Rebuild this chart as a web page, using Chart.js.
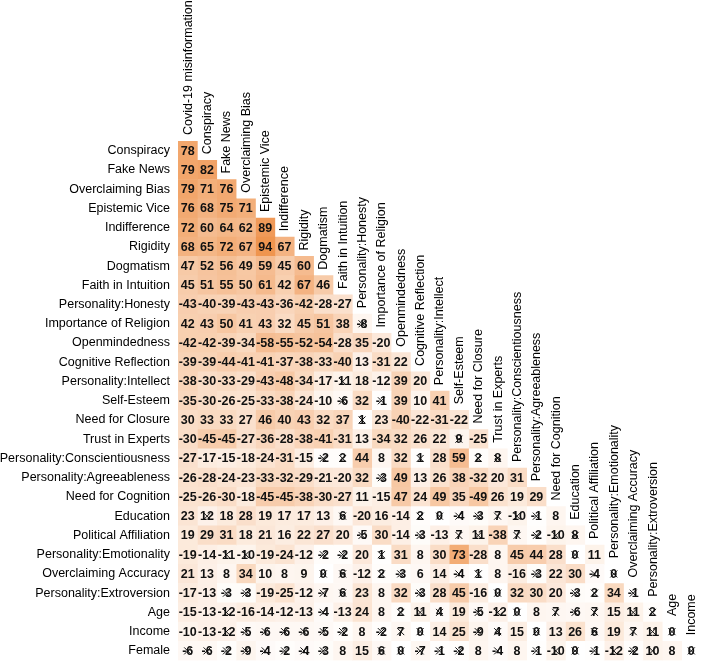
<!DOCTYPE html>
<html><head><meta charset="utf-8">
<script src="https://cdn.jsdelivr.net/npm/chart.js@4"></script>
<style>html,body{margin:0;padding:0;background:#fff}#wrap{width:703px;height:668px;position:relative}</style>
</head><body><div id="wrap"><canvas id="c"></canvas></div>
<script>
const rowLabels = ["Conspiracy","Fake News","Overclaiming Bias","Epistemic Vice","Indifference","Rigidity","Dogmatism","Faith in Intuition","Personality:Honesty","Importance of Religion","Openmindedness","Cognitive Reflection","Personality:Intellect","Self-Esteem","Need for Closure","Trust in Experts","Personality:Conscientiousness","Personality:Agreeableness","Need for Cognition","Education","Political Affiliation","Personality:Emotionality","Overclaiming Accuracy","Personality:Extroversion","Age","Income","Female"];
const colLabels = ["Covid-19 misinformation","Conspiracy","Fake News","Overclaiming Bias","Epistemic Vice","Indifference","Rigidity","Dogmatism","Faith in Intuition","Personality:Honesty","Importance of Religion","Openmindedness","Cognitive Reflection","Personality:Intellect","Self-Esteem","Need for Closure","Trust in Experts","Personality:Conscientiousness","Personality:Agreeableness","Need for Cognition","Education","Political Affiliation","Personality:Emotionality","Overclaiming Accuracy","Personality:Extroversion","Age","Income"];
// correlations (x100), lower triangle, one row per rowLabel
const values = [
 [78],
 [79,82],
 [79,71,76],
 [76,68,75,71],
 [72,60,64,62,89],
 [68,65,72,67,94,67],
 [47,52,56,49,59,45,60],
 [45,51,55,50,61,42,67,46],
 [-43,-40,-39,-43,-43,-36,-42,-28,-27],
 [42,43,50,41,43,32,45,51,38,-8],
 [-42,-42,-39,-34,-58,-55,-52,-54,-28,35,-20],
 [-39,-39,-44,-41,-41,-37,-38,-33,-40,13,-31,22],
 [-38,-30,-33,-29,-43,-48,-34,-17,-11,18,-12,39,20],
 [-35,-30,-26,-25,-33,-38,-24,-10,-6,32,-1,39,10,41],
 [30,33,33,27,46,40,43,32,37,1,23,-40,-22,-31,-22],
 [-30,-45,-45,-27,-36,-28,-38,-41,-31,13,-34,32,26,22,9,-25],
 [-27,-17,-15,-18,-24,-31,-15,-2,2,44,8,32,1,28,59,2,8],
 [-26,-28,-24,-23,-33,-32,-29,-21,-20,32,-3,49,13,26,38,-32,20,31],
 [-25,-26,-30,-18,-45,-45,-38,-30,-27,11,-15,47,24,49,35,-49,26,19,29],
 [23,12,18,28,19,17,17,13,6,-20,16,-14,2,0,-4,-3,7,-10,-1,8],
 [19,29,31,18,21,16,22,27,20,-5,30,-14,-3,-13,7,11,-38,7,-2,-10,8],
 [-19,-14,-11,-10,-19,-24,-12,-2,-2,20,1,31,8,30,73,-28,8,45,44,28,0,11],
 [21,13,8,34,10,8,9,0,6,-12,2,-3,6,14,-4,1,8,-16,-3,22,30,-4,0],
 [-17,-13,-3,-3,-19,-25,-12,-7,6,23,8,32,-3,28,45,-16,0,32,30,20,-3,2,34,-1],
 [-15,-13,-12,-16,-14,-12,-13,-4,-13,24,8,2,11,4,19,-5,-12,0,8,7,-6,7,15,11,2],
 [-10,-13,-12,-5,-6,-6,-6,-5,-2,8,-2,7,0,14,25,-9,4,15,0,13,26,6,19,7,11,0],
 [-6,-6,-2,-9,-4,-2,-4,-3,8,15,6,0,-7,-1,-2,8,-4,8,-1,-10,0,-1,-12,-2,10,8,0]
];
// column indices of non-significant (crossed) cells, per row
const nonSig = [
 [],[],[],[],[],[],[],[],[],
 [9],
 [],[],
 [8],
 [8,10],
 [9],
 [14],
 [7,8,12,15,16],
 [10],
 [],
 [1,8,12,13,14,15,16,17,18],
 [9,12,14,15,17,18,19,20],
 [2,3,7,8,10,20],
 [7,8,10,11,14,15,18,21,22],
 [2,3,7,8,12,16,20,21,23],
 [2,7,11,12,13,15,16,17,19,20,21,23,24],
 [2,3,4,5,6,7,8,10,11,12,15,16,18,21,23,24,25],
 [0,1,2,3,4,5,6,7,10,11,12,13,14,16,18,19,20,21,22,23,24,26]
];

function cellColor(v){
  const t = Math.min(1, Math.abs(v)/100);
  const r = Math.round(255 - t*(255-238));
  const g = Math.round(255 - t*(255-142));
  const b = Math.round(255 - t*(255-68));
  return `rgb(${r},${g},${b})`;
}

const datasets = colLabels.map((c, j) => ({
  label: c,
  data: rowLabels.map((r, i) => (i >= j ? [j - 0.5, j + 0.5] : null)),
  backgroundColor: rowLabels.map((r, i) => (i >= j ? cellColor(values[i][j]) : 'rgba(0,0,0,0)')),
  borderWidth: 0,
  barPercentage: 1,
  categoryPercentage: 1,
  grouped: false
}));

const labelPlugin = {
  id: 'cellLabels',
  afterDatasetsDraw(chart) {
    const ctx = chart.ctx;
    const xs = chart.scales.x, ys = chart.scales.y;
    const cellH = Math.abs(ys.getPixelForValue(1) - ys.getPixelForValue(0));
    ctx.save();
    ctx.fillStyle = '#111';
    ctx.strokeStyle = '#111';
    ctx.textAlign = 'center';
    ctx.textBaseline = 'middle';
    ctx.font = 'bold 12.5px "Liberation Sans", Arial, sans-serif';
    values.forEach((row, i) => {
      row.forEach((v, j) => {
        const x = xs.getPixelForValue(j), y = ys.getPixelForValue(i);
        ctx.fillText(String(v), x, y + 0.5);
        if (nonSig[i].includes(j)) {
          ctx.lineWidth = 1;
          ctx.beginPath();
          ctx.moveTo(x - 3.5, y - 3.5); ctx.lineTo(x + 3.5, y + 3.5);
          ctx.moveTo(x - 3.5, y + 3.5); ctx.lineTo(x + 3.5, y - 3.5);
          ctx.stroke();
        }
      });
    });
    ctx.font = '12.5px "Liberation Sans", Arial, sans-serif';
    ctx.textAlign = 'left';
    colLabels.forEach((c, j) => {
      const x = xs.getPixelForValue(j);
      const yb = ys.getPixelForValue(j) - cellH / 2 - 6;
      ctx.save();
      ctx.translate(x, yb);
      ctx.rotate(-Math.PI / 2);
      ctx.fillStyle = '#000';
      ctx.fillText(c, 0, 0.5);
      ctx.restore();
    });
    ctx.restore();
  }
};

new Chart(document.getElementById('c'), {
  type: 'bar',
  data: { labels: rowLabels, datasets },
  options: {
    indexAxis: 'y',
    responsive: true,
    maintainAspectRatio: false,
    animation: false,
    layout: { padding: { top: 141, bottom: 6, right: 2, left: 0 } },
    plugins: { legend: { display: false }, tooltip: { enabled: false } },
    scales: {
      x: { type: 'linear', min: -0.5, max: 26.5, display: false },
      y: {
        type: 'category',
        grid: { display: false, drawTicks: true, tickLength: 8 },
        border: { display: false },
        ticks: { color: '#000', padding: 0, font: { family: '"Liberation Sans", Arial, sans-serif', size: 12.5 } },
        afterFit(scale) { scale.width = 178; }
      }
    }
  },
  plugins: [labelPlugin]
});
</script>
</body></html>
